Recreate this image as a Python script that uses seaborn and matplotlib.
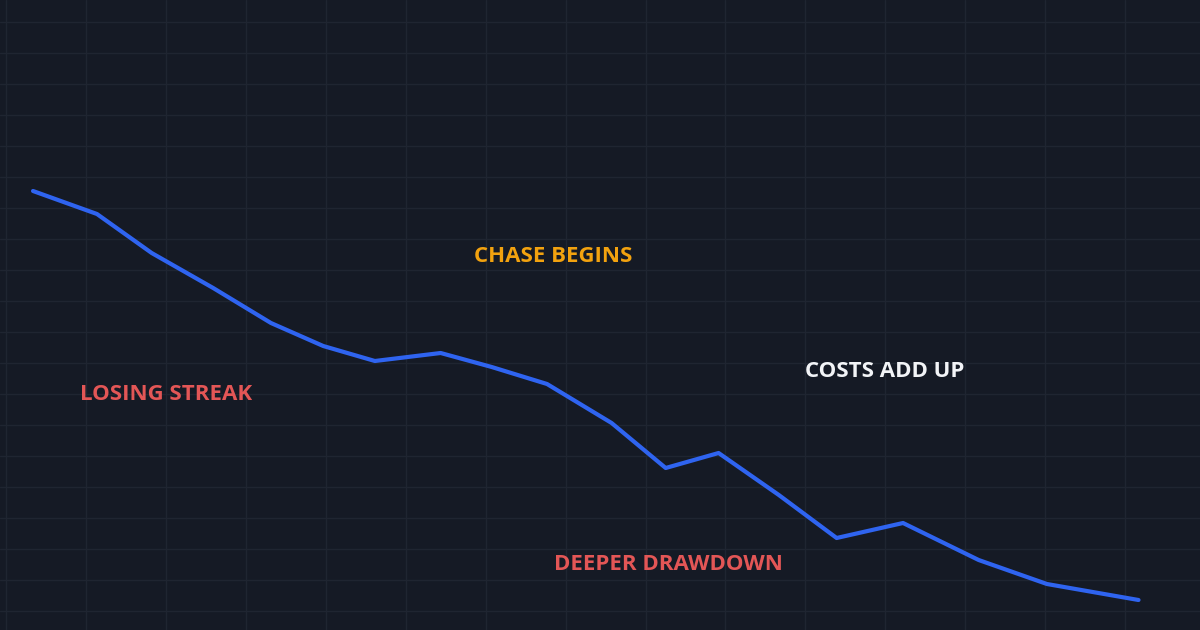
import numpy as np
import matplotlib
matplotlib.use("Agg")
import matplotlib.pyplot as plt
import seaborn as sns
import pandas as pd

# equity curve
days = [0, 1.04, 1.93, 2.93, 3.87, 4.72, 5.56, 6.63, 7.46, 8.36, 9.41, 10.29, 11.15, 12.13, 13.07, 14.15, 15.38, 16.49, 17.98]
equity = [100, 97.7, 93.8, 90.3, 86.8, 84.5, 83.0, 83.8, 82.4, 80.7, 76.8, 72.3, 73.8, 69.6, 65.3, 66.8, 63.1, 60.7, 59.1]

labels = ["LOSING STREAK", "CHASE BEGINS", "COSTS ADD UP", "DEEPER DRAWDOWN"]
label_x = [2.16, 8.46, 13.85, 10.33]
label_y = [79.7, 93.4, 81.9, 62.7]
label_colors = ["#e35656", "#f2a20f", "#f2f4f7", "#e35656"]

bg = "#151a25"
sns.set_theme(style="dark", rc={"axes.facecolor": bg, "figure.facecolor": bg})
plt.rcParams["font.family"] = ["Open Sans", "DejaVu Sans"]

fig = plt.figure(figsize=(12, 6.3), dpi=100)
ax = fig.add_axes([0, 0, 1, 1])
df = pd.DataFrame({"day": days, "equity": equity})
sns.lineplot(data=df, x="day", y="equity", ax=ax, color="#2f64f0", linewidth=3)

ax.set_xlim(-0.537, 18.98)
ax.set_ylim(56.1, 119.1)
ax.set_xticks(np.arange(0.862 - 1.3, 19, 1.3))
ax.set_yticks(np.arange(116.9, 56, -3.1))
ax.grid(True, color="#1f2531", linewidth=1)
ax.tick_params(length=0, labelbottom=False, labelleft=False)
ax.set_xlabel("")
ax.set_ylabel("")
for s in ax.spines.values():
    s.set_visible(False)

for t, x, y, c in zip(labels, label_x, label_y, label_colors):
    ax.text(x, y, t, color=c, fontsize=16, fontweight="bold", ha="center", va="center",
            fontstretch="condensed")

fig.savefig("out.png", dpi=100, facecolor=bg)
